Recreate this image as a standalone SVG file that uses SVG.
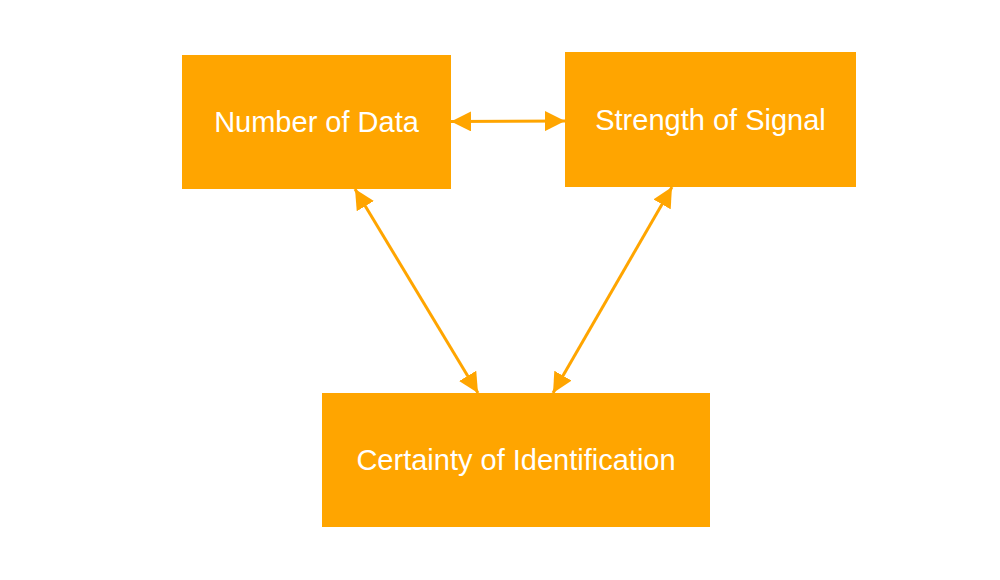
<svg xmlns="http://www.w3.org/2000/svg" width="1000" height="580" viewBox="0 0 1000 580">
<defs>
<marker id="ah" viewBox="0 0 20 20" refX="20" refY="10" markerWidth="20" markerHeight="20" markerUnits="userSpaceOnUse" orient="auto-start-reverse">
<path d="M0,0 L20,10 L0,20 z" fill="#FFA500"/>
</marker>
<style>
.box{fill:#FFA500}
.lbl{fill:#FFFFFF;font-family:"Liberation Sans",Arial,sans-serif;font-size:29px;text-anchor:middle;dominant-baseline:central}
.edge{stroke:#FFA500;stroke-width:3;fill:none;marker-start:url(#ah);marker-end:url(#ah)}
</style>
</defs>
<rect width="1000" height="580" fill="#FFFFFF"/>
<g id="connectors">
<line class="edge" x1="451" y1="121.5" x2="565" y2="121"/>
<line class="edge" x1="355" y1="189" x2="478" y2="393"/>
<line class="edge" x1="672" y1="187" x2="553" y2="393"/>
</g>
<g id="number-of-data">
<rect class="box" x="182" y="55" width="269" height="134"/>
<text class="lbl" x="316.5" y="122">Number of Data</text>
</g>
<g id="strength-of-signal">
<rect class="box" x="565" y="52" width="291" height="135"/>
<text class="lbl" x="710.5" y="120">Strength of Signal</text>
</g>
<g id="certainty-of-identification">
<rect class="box" x="322" y="393" width="388" height="134"/>
<text class="lbl" x="516" y="460">Certainty of Identification</text>
</g>
</svg>
